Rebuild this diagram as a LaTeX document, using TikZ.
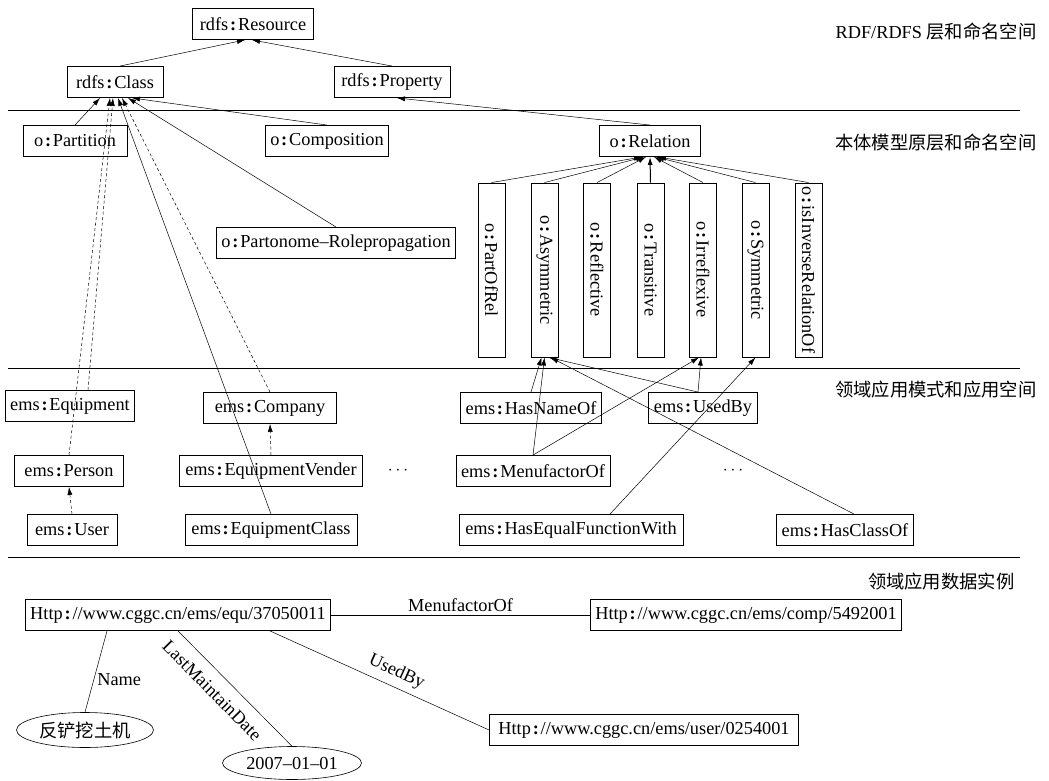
\documentclass[tikz,border=0pt]{standalone}
\usepackage{fontspec}
\setmainfont{Liberation Serif}
\newfontfamily\cjk{Noto Sans CJK SC}
\usetikzlibrary{arrows.meta,shapes.geometric}
\newcommand{\cln}{\hspace{.1em}\textbf{:}\hspace{.1em}}
\newcommand{\layerfont}{\fontsize{18.3}{22}\selectfont}

\begin{document}
\begin{tikzpicture}[x=1pt,y=-1pt,every node/.style={font=\fontsize{18.3}{22}\selectfont}]
\tikzset{box/.style={draw,line width=.9pt,minimum height=31pt,inner xsep=5pt,inner ysep=2pt},
  vbox/.style={draw,line width=.9pt,rotate=-90,minimum width=174pt,minimum height=27pt,inner sep=1pt},
  lit/.style={draw,ellipse,line width=.6pt,inner sep=0pt},
  isa/.style={-{Latex[length=8pt,width=5pt]},line width=.5pt},
  dashisa/.style={isa,dash pattern=on 3pt off 2.5pt},
  link/.style={line width=.5pt},
  layer/.style={line width=1pt}}
\useasboundingbox (0,0) rectangle (1049,781);

\node[box,minimum width=121pt] (res) at (253,24) {rdfs\cln Resource};
\node[box,minimum width=96pt] (cls) at (115,82) {rdfs\cln Class};
\node[box,minimum width=116pt] (prop) at (392,82) {rdfs\cln Property};
\node[box,minimum width=104pt] (part) at (75,141) {o\cln Partition};
\node[box,minimum width=123pt] (compo) at (327,141) {o\cln Composition};
\node[box,minimum width=101pt] (rel) at (650,141) {o\cln Relation};
\node[box,minimum width=237pt] (parto) at (336,243) {o\cln Partonome--Rolepropagation};

\node[vbox] (pof) at (491.5,270) {o\cln PartOfRel};
\node[vbox] (asym) at (544.5,270) {o\cln Asymmetric};
\node[vbox] (refl) at (597,270) {o\cln Reflective};
\node[vbox] (trans) at (650.5,270) {o\cln Transitive};
\node[vbox] (irr) at (703,270) {o\cln Irreflexive};
\node[vbox] (sym) at (755.5,270) {o\cln Symmetric};
\node[vbox] (inv) at (808.5,270) {o\cln isInverseRelationOf};

\node[box,minimum width=124pt] (equip) at (70,406) {ems\cln Equipment};
\node[box,minimum width=133pt] (company) at (270,408) {ems\cln Company};
\node[box,minimum width=137pt] (hasname) at (531,408) {ems\cln HasNameOf};
\node[box,minimum width=109pt] (usedby) at (703,408) {ems\cln UsedBy};
\node[box,minimum width=109pt] (person) at (69,471) {ems\cln Person};
\node[box,minimum width=183pt] (vender) at (271,471) {ems\cln EquipmentVender};
\node (dotsa) at (398,471) {$\cdots$};
\node[box,minimum width=150pt] (menuf) at (533,471) {ems\cln MenufactorOf};
\node (dotsb) at (733,471) {$\cdots$};
\node[box,minimum width=90pt] (user) at (72,530) {ems\cln User};
\node[box,minimum width=172pt] (eqclass) at (271,530) {ems\cln EquipmentClass};
\node[box,minimum width=224pt] (hasequal) at (571,530) {ems\cln HasEqualFunctionWith};
\node[box,minimum width=125pt] (hasclass) at (845,530) {ems\cln HasClassOf};

\node[box,minimum width=305pt] (equ) at (178,615) {Http\cln//www.cggc.cn/ems/equ/37050011};
\node[box,minimum width=308pt] (compurl) at (746,615) {Http\cln//www.cggc.cn/ems/comp/5492001};
\node[box,minimum width=309pt] (userurl) at (644,730) {Http\cln//www.cggc.cn/ems/user/0254001};
\node[lit,minimum width=137pt,minimum height=35pt] (fan) at (85,730) {\cjk 反铲挖土机};
\node[lit,minimum width=139pt,minimum height=33pt] (date) at (292,763) {2007--01--01};

\node[anchor=east,font=\layerfont] (lra) at (1040,32) {RDF/RDFS {\cjk 层和命名空间}};
\node[anchor=east,font=\layerfont] (lrb) at (1040,143) {\cjk 本体模型原层和命名空间};
\node[anchor=east,font=\layerfont] (lrc) at (1040,390) {\cjk 领域应用模式和应用空间};
\node[anchor=east,font=\layerfont] (lrd) at (1018,582) {\cjk 领域应用数据实例};

\draw[layer] (8,111) -- (1020,111);
\draw[layer] (8,368) -- (1020,368);
\draw[layer] (8,557) -- (1020,557);

\draw[isa] ([xshift=5pt]cls.north) -- ([xshift=-8pt]res.south);
\draw[isa] (prop.north) -- ([xshift=-1pt]res.south);
\draw[isa] (part.north) -- ([xshift=-15pt]cls.south);
\draw[isa] (compo.north) -- ([xshift=17pt]cls.south);
\draw[isa] (parto.north) -- ([xshift=13pt]cls.south);
\draw[dashisa] (person.north) -- ([xshift=-5pt]cls.south);
\draw[dashisa] ([xshift=18pt]equip.north) -- ([xshift=-2pt]cls.south);
\draw[isa] (eqclass.north) -- ([xshift=3pt]cls.south);
\draw[dashisa] (company.north) -- ([xshift=7pt]cls.south);
\draw[isa] (rel.north) -- ([xshift=5pt]prop.south);
\draw[dashisa] (vender.north) -- (company.south);
\draw[dashisa] (user.north) -- (person.south);

\draw[isa] (pof.west) -- ([xshift=-8pt]rel.south);
\draw[isa] (asym.west) -- ([xshift=-6pt]rel.south);
\draw[isa] (refl.west) -- ([xshift=-4pt]rel.south);
\draw[isa,line width=1pt] (trans.west) -- (rel.south);
\draw[isa] (irr.west) -- ([xshift=4pt]rel.south);
\draw[isa] (sym.west) -- ([xshift=6pt]rel.south);
\draw[isa] (inv.west) -- ([xshift=8pt]rel.south);

\draw[isa] (hasname.north) -- ([xshift=-3pt]asym.east);
\draw[isa] (menuf.north) -- (asym.east);
\draw[isa] (menuf.north) -- ([xshift=-4pt]irr.east);
\draw[isa] ([xshift=-5pt]usedby.north) -- ([xshift=4pt]asym.east);
\draw[isa] ([xshift=-5pt]usedby.north) -- ([xshift=-2pt]irr.east);
\draw[isa] ([xshift=9pt]hasclass.north) -- ([xshift=6pt]asym.east);
\draw[isa] ([xshift=39pt]hasequal.north) -- (sym.east);

\draw[link,line width=.8pt] (equ) -- (compurl) node[midway,above] {MenufactorOf};
\draw[link] ([xshift=-71pt]equ.south) -- (fan.north) node[pos=.6,right] {Name};
\draw[link] (equ.south) -- (date.north) node[pos=.41,sloped,below=8pt] {LastMaintainDate};
\draw[link] ([xshift=92pt]equ.south) -- (userurl.west) node[pos=.55,sloped,above=3pt] {UsedBy};

\end{tikzpicture}
\end{document}
